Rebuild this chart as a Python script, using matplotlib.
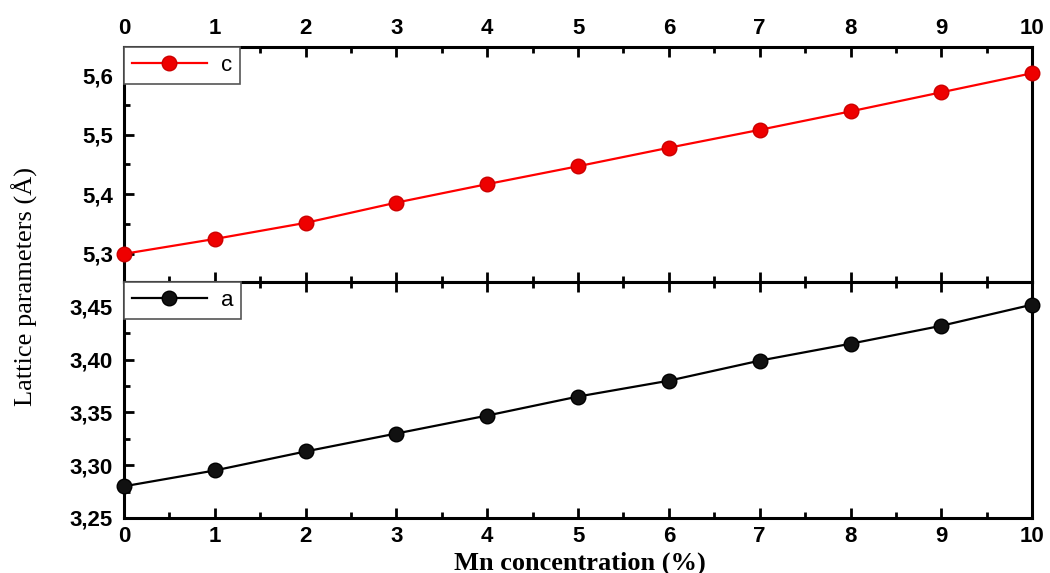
import matplotlib
matplotlib.use("Agg")
import matplotlib.pyplot as plt
from matplotlib.ticker import MultipleLocator, FuncFormatter

# Mn concentration (%) and lattice parameters (Å)
mn_conc = [0, 1, 2, 3, 4, 5, 6, 7, 8, 9, 10]
c_param = [5.300, 5.325, 5.352, 5.386, 5.417, 5.447, 5.478, 5.508, 5.539, 5.571, 5.603]
a_param = [3.280, 3.295, 3.313, 3.330, 3.347, 3.365, 3.380, 3.399, 3.415, 3.432, 3.452]

fig = plt.figure(figsize=(10.5, 5.73), dpi=100)
gs = fig.add_gridspec(2, 1, left=0.118, right=0.983, top=0.918, bottom=0.096, hspace=0)
ax_c = fig.add_subplot(gs[0])
ax_a = fig.add_subplot(gs[1], sharex=ax_c)


def comma_fmt(decimals):
    return FuncFormatter(lambda v, _: f"{v:.{decimals}f}".replace(".", ","))


def style(ax):
    for sp in ax.spines.values():
        sp.set_linewidth(2.2)
    ax.tick_params(which="both", direction="in", width=2, top=True, right=False, pad=8)
    ax.tick_params(axis="x", which="both", pad=6)
    ax.tick_params(which="major", length=7)
    ax.tick_params(which="minor", length=4)
    ax.xaxis.set_major_locator(MultipleLocator(1))
    ax.xaxis.set_minor_locator(MultipleLocator(0.5))


ax_c.plot(mn_conc, c_param, color="#ff0000", lw=1.6, marker="o", ms=10.5,
          mfc="#ee0000", mec="#cc0000", label="c", clip_on=False, zorder=3)
ax_a.plot(mn_conc, a_param, color="black", lw=1.6, marker="o", ms=10.5,
          mfc="#111111", mec="black", label="a", clip_on=False, zorder=3)

ax_c.set_xlim(0, 10)
ax_c.set_ylim(5.252, 5.647)
ax_c.yaxis.set_major_locator(MultipleLocator(0.1))
ax_c.yaxis.set_minor_locator(MultipleLocator(0.05))
ax_c.yaxis.set_major_formatter(comma_fmt(1))

ax_a.set_ylim(3.25, 3.473)
ax_a.yaxis.set_major_locator(MultipleLocator(0.05))
ax_a.yaxis.set_minor_locator(MultipleLocator(0.025))
ax_a.yaxis.set_major_formatter(comma_fmt(2))

style(ax_c)
style(ax_a)
ax_c.tick_params(axis="x", labeltop=True, labelbottom=False)
ax_a.tick_params(axis="x", labeltop=False, labelbottom=True)
for ax in (ax_c, ax_a):
    for lab in ax.get_xticklabels() + ax.get_yticklabels():
        lab.set_family("Liberation Sans")
        lab.set_weight("bold")
        lab.set_size(16)

for ax in (ax_c, ax_a):
    leg = ax.legend(loc="upper left", borderaxespad=0, handlelength=3.4,
                    fancybox=False, framealpha=1, borderpad=0.35, handletextpad=0.6,
                    prop=dict(family="Liberation Sans", size=16))
    leg.get_frame().set_edgecolor("#555555")
    leg.get_frame().set_linewidth(1.2)

fig.text(0.024, 0.50, "Lattice parameters (Å)", rotation=90, ha="center", va="center",
         family="Liberation Serif", size=19)
fig.text(0.552, 0.017, "Mn concentration (%)", ha="center", va="center",
         family="Liberation Serif", weight="bold", size=19)

fig.savefig("out.png", dpi=100)
